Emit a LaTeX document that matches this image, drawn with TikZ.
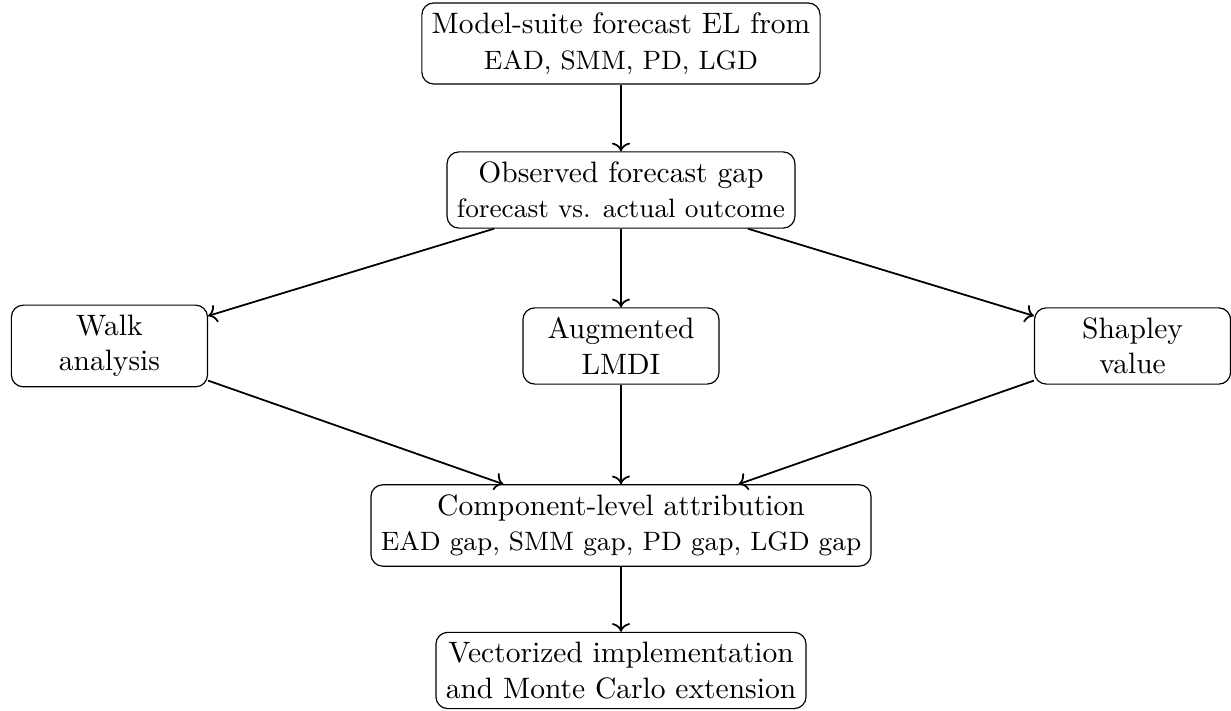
\documentclass[tikz,border=0pt]{standalone}
\usepackage{tikz}
\usetikzlibrary{positioning, arrows.meta}
\tikzset{
  box/.style={draw, rounded corners, align=center},
  method/.style={box, text width=2.1cm},
  flow/.style={->, semithick}
}
\begin{document}
\begin{tikzpicture}
\useasboundingbox (-7.393,0) rectangle (7.262,-8.464);
% Forecast and observed gap
\node[box] (forecast) at (0,-0.518) {Model-suite forecast EL from\\{\small EAD, SMM, PD, LGD}};
\node[box] (gap) at (0,-2.262) {Observed forecast gap\\{\small forecast vs. actual outcome}};

% Three decomposition methods
\node[method] (walk) at (-6.09,-4.119) {Walk analysis};
\node[method] (lmdi) at (0,-4.119) {Augmented LMDI};
\node[method] (shapley) at (6.09,-4.119) {Shapley value};

% Attribution and extension
\node[box] (attr) at (0,-6.256) {Component-level attribution\\{\small EAD gap, SMM gap, PD gap, LGD gap}};
\node[box] (vect) at (0,-7.982) {Vectorized implementation\\and Monte Carlo extension};

\draw[flow] (forecast) -- (gap);
\foreach \m in {walk, lmdi, shapley} {
    \draw[flow] (gap) -- (\m);
    \draw[flow] (\m) -- (attr);
}
\draw[flow] (attr) -- (vect);
\end{tikzpicture}
\end{document}
